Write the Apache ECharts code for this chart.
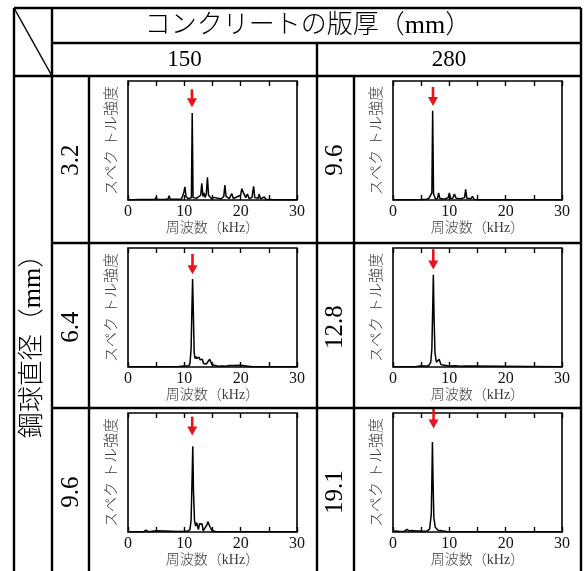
<!DOCTYPE html>
<html>
<head>
<meta charset="utf-8">
<script src="https://cdn.jsdelivr.net/npm/echarts@6/dist/echarts.min.js"></script>
<style>
  html, body { margin: 0; padding: 0; background: #fff; }
  #chart { width: 585px; height: 571px; }
</style>
</head>
<body>
<div id="chart"></div>
<script>
// Spectra as [frequency (kHz), relative amplitude] pairs
const spec150_32 = [[0,0.003],[1,0.003],[2,0.004],[3.1,0.004],[3.3,0.015],[3.5,0.004],[4.8,0.005],[5.0,0.022],[5.2,0.005],[6.5,0.006],[7.1,0.008],[7.3,0.035],[7.5,0.008],[8.2,0.006],[8.4,0.016],[8.6,0.006],[9.5,0.008],[9.9,0.06],[10.1,0.11],[10.3,0.03],[10.7,0.01],[11.25,0.02],[11.4,0.73],[11.55,0.02],[12.2,0.015],[12.9,0.04],[13.1,0.14],[13.3,0.03],[13.5,0.06],[13.7,0.02],[13.9,0.05],[14.1,0.19],[14.3,0.04],[14.8,0.012],[15.3,0.022],[15.6,0.006],[16.5,0.008],[17.0,0.03],[17.2,0.125],[17.4,0.03],[18.0,0.012],[18.4,0.055],[18.7,0.012],[19.3,0.025],[19.6,0.01],[20.0,0.04],[20.2,0.095],[20.5,0.06],[20.7,0.07],[20.9,0.02],[21.2,0.05],[21.5,0.012],[22.0,0.02],[22.3,0.115],[22.5,0.02],[23.1,0.015],[23.3,0.05],[23.5,0.01],[24.2,0.025],[24.5,0.005],[25.5,0.004],[27,0.003],[30,0.002]];
const spec280_96 = [[0,0.002],[3,0.003],[5,0.004],[6.0,0.006],[6.4,0.015],[6.7,0.02],[6.9,0.06],[7.04,0.75],[7.2,0.05],[7.5,0.012],[7.9,0.01],[8.1,0.06],[8.3,0.015],[8.8,0.008],[9.3,0.01],[9.8,0.02],[10.0,0.06],[10.2,0.012],[10.6,0.015],[10.9,0.05],[11.2,0.015],[12.0,0.01],[12.7,0.02],[12.9,0.09],[13.1,0.015],[13.8,0.01],[14.1,0.03],[14.4,0.005],[15,0.003],[30,0.002]];
const spec150_64 = [[0,0.002],[5,0.003],[9,0.004],[10.0,0.008],[10.3,0.005],[10.8,0.01],[11.0,0.03],[11.2,0.15],[11.35,0.5],[11.47,0.74],[11.6,0.45],[11.75,0.12],[11.9,0.07],[12.0,0.09],[12.2,0.07],[12.4,0.075],[12.6,0.084],[12.8,0.06],[13.0,0.062],[13.2,0.065],[13.4,0.03],[13.6,0.017],[13.9,0.025],[14.2,0.04],[14.5,0.065],[14.7,0.05],[14.9,0.02],[15.2,0.01],[16,0.006],[16.8,0.008],[17.1,0.017],[17.4,0.006],[18,0.012],[19,0.012],[20,0.014],[20.3,0.003],[22,0.002],[30,0.002]];
const spec280_128 = [[0,0.002],[4,0.003],[5.0,0.01],[5.3,0.004],[6.0,0.006],[6.4,0.015],[6.7,0.04],[6.9,0.15],[7.05,0.5],[7.16,0.775],[7.3,0.4],[7.45,0.12],[7.7,0.04],[7.9,0.03],[8.2,0.065],[8.5,0.02],[8.8,0.035],[9.1,0.015],[9.4,0.027],[9.7,0.01],[10.0,0.022],[10.3,0.008],[11,0.01],[12,0.006],[13,0.008],[13.3,0.003],[30,0.002]];
const spec150_96 = [[0,0.002],[2.8,0.003],[3.2,0.015],[3.6,0.003],[5.0,0.01],[5.3,0.003],[9,0.004],[10.5,0.006],[11.0,0.02],[11.2,0.1],[11.35,0.4],[11.5,0.72],[11.62,0.35],[11.8,0.1],[12.0,0.05],[12.2,0.078],[12.5,0.02],[12.7,0.07],[12.85,0.085],[13.0,0.06],[13.15,0.068],[13.35,0.01],[13.7,0.015],[14.0,0.06],[14.2,0.085],[14.4,0.06],[14.6,0.04],[14.9,0.012],[15.5,0.004],[30,0.002]];
const spec280_191 = [[0,0.003],[0.5,0.008],[0.8,0.02],[1.1,0.005],[2.0,0.006],[2.5,0.022],[2.9,0.008],[3.3,0.012],[3.6,0.004],[4.2,0.008],[4.5,0.016],[4.8,0.008],[5.0,0.022],[5.2,0.006],[6.0,0.008],[6.5,0.025],[6.8,0.15],[6.92,0.5],[7.0,0.756],[7.1,0.45],[7.25,0.12],[7.5,0.04],[8.0,0.015],[8.7,0.01],[9.5,0.005],[10.5,0.003],[30,0.002]];

// Peak markers: [frequency, tail height, tip height]
const arrow150_32 = [11.35, 0.93, 0.78];
const arrow280_96 = [7.1, 0.95, 0.79];
const arrow150_64 = [11.45, 0.95, 0.78];
const arrow280_128 = [7.15, 0.99, 0.82];
const arrow150_96 = [11.4, 0.97, 0.81];
const arrow280_191 = [7.2, 1.04, 0.87];

// Table headings
const slabHeading = 'コンクリートの版厚（mm）';
const slabThickness = ['150', '280'];
const ballHeading = '鋼球直径（mm）';
const ballDiameters = [['3.2', '6.4', '9.6'], ['9.6', '12.8', '19.1']];
const xTicks = [0, 10, 20, 30];

const panels = [
  { col: 0, row: 0, data: spec150_32, arrow: arrow150_32 },
  { col: 1, row: 0, data: spec280_96, arrow: arrow280_96 },
  { col: 0, row: 1, data: spec150_64, arrow: arrow150_64 },
  { col: 1, row: 1, data: spec280_128, arrow: arrow280_128 },
  { col: 0, row: 2, data: spec150_96, arrow: arrow150_96 },
  { col: 1, row: 2, data: spec280_191, arrow: arrow280_191 }
];

// Table frame layout
const X = { L: 14, c1: 52, c2: 89, mid: 317, c3: 354, R: 581 };
const Y = { T: 8, r1: 43, r2: 76, r3: 243, r4: 408, B: 580 };
const rowTops = [Y.r2, Y.r3, Y.r4];
const plotLeft = [128, 393];
const PLOT_W = 169, PLOT_H = 119, PLOT_DY = 5;

const RED = '#e8141b';
const FONT = '"Liberation Serif", "Noto Sans CJK JP", serif';

const grids = [], xAxes = [], yAxes = [], series = [];
panels.forEach((p, i) => {
  grids.push({
    left: plotLeft[p.col], top: rowTops[p.row] + PLOT_DY,
    width: PLOT_W, height: PLOT_H,
    show: true, borderColor: '#000', borderWidth: 1.6, backgroundColor: 'transparent'
  });
  const tick = { show: true, inside: true, length: 5, lineStyle: { color: '#000', width: 1.4 } };
  xAxes.push({
    gridIndex: i, type: 'value', min: 0, max: 30, interval: 5, position: 'bottom',
    axisLine: { show: false }, axisTick: tick, splitLine: { show: false },
    axisLabel: {
      margin: 4, fontFamily: FONT, fontSize: 16, color: '#111',
      formatter: v => (xTicks.indexOf(v) >= 0 ? String(v) : '')
    },
    name: '周波数（kHz）', nameLocation: 'middle', nameGap: 21,
    nameTextStyle: { fontFamily: FONT, fontSize: 14, fontWeight: 300, color: '#3a3a3a' }
  });
  xAxes.push({
    gridIndex: i, type: 'value', min: 0, max: 30, interval: 5, position: 'top',
    axisLine: { show: false }, axisTick: tick, axisLabel: { show: false },
    splitLine: { show: false }
  });
  yAxes.push({
    gridIndex: i, type: 'value', min: 0, max: 1,
    axisLine: { show: false }, axisTick: { show: false }, axisLabel: { show: false },
    splitLine: { show: false },
    name: 'スペク トル強度', nameLocation: 'middle', nameRotate: 90, nameGap: 8,
    nameTextStyle: { fontFamily: FONT, fontSize: 15, fontWeight: 300, color: '#3a3a3a' }
  });
  series.push({
    type: 'line', xAxisIndex: 2 * i, yAxisIndex: i, data: p.data,
    showSymbol: false, lineStyle: { color: '#000', width: 1.5 }, silent: true
  });
  series.push({
    type: 'custom', xAxisIndex: 2 * i, yAxisIndex: i, data: [p.arrow], silent: true,
    renderItem: (params, api) => {
      const a = api.coord([api.value(0), api.value(1)]);
      const b = api.coord([api.value(0), api.value(2)]);
      const head = 9, half = 5;
      return {
        type: 'group', children: [
          { type: 'line', shape: { x1: a[0], y1: a[1], x2: b[0], y2: b[1] - head + 1 },
            style: { stroke: RED, lineWidth: 2.6 } },
          { type: 'polygon', shape: { points: [[b[0] - half, b[1] - head], [b[0] + half, b[1] - head], [b[0], b[1]]] },
            style: { fill: RED } }
        ]
      };
    }
  });
});

// Table rules
const rules = [
  [X.L, Y.T, X.R, Y.T], [X.c1, Y.r1, X.R, Y.r1], [X.L, Y.r2, X.R, Y.r2],
  [X.c1, Y.r3, X.R, Y.r3], [X.c1, Y.r4, X.R, Y.r4],
  [X.L, Y.T, X.L, Y.B], [X.c1, Y.T, X.c1, Y.B], [X.c2, Y.r2, X.c2, Y.B],
  [X.mid, Y.r1, X.mid, Y.B], [X.c3, Y.r2, X.c3, Y.B], [X.R, Y.T, X.R, Y.B]
];
const graphic = rules.map(r => ({
  type: 'line', shape: { x1: r[0], y1: r[1], x2: r[2], y2: r[3] },
  style: { stroke: '#000', lineWidth: 2.4 }, z: 10
}));
graphic.push({ type: 'line', shape: { x1: X.L, y1: Y.T, x2: X.c1, y2: Y.r2 },
  style: { stroke: '#000', lineWidth: 1.5 }, z: 10 });

function label(text, x, y, size, rot, weight) {
  return { type: 'text', x: x, y: y, rotation: rot || 0, z: 10,
    style: { text: text, font: (weight || 'normal') + ' ' + size + 'px ' + FONT, fill: '#000',
      align: 'center', verticalAlign: 'middle' } };
}
graphic.push(label(slabHeading, 308, 26, 26, 0, 300));
graphic.push(label(slabThickness[0], (X.c1 + X.mid) / 2, 60, 23));
graphic.push(label(slabThickness[1], (X.mid + X.R) / 2, 60, 23));
graphic.push(label(ballHeading, 33, 340, 26, Math.PI / 2, 300));
ballDiameters[0].forEach((t, r) => graphic.push(label(t, (X.c1 + X.c2) / 2 + 1, rowTops[r] + 84, 25, Math.PI / 2)));
ballDiameters[1].forEach((t, r) => graphic.push(label(t, (X.mid + X.c3) / 2, rowTops[r] + 84, 25, Math.PI / 2)));

const chart = echarts.init(document.getElementById('chart'), null, { renderer: 'canvas' });
chart.setOption({
  animation: false,
  backgroundColor: '#fff',
  grid: grids, xAxis: xAxes, yAxis: yAxes, series: series, graphic: graphic
});
</script>
</body>
</html>
